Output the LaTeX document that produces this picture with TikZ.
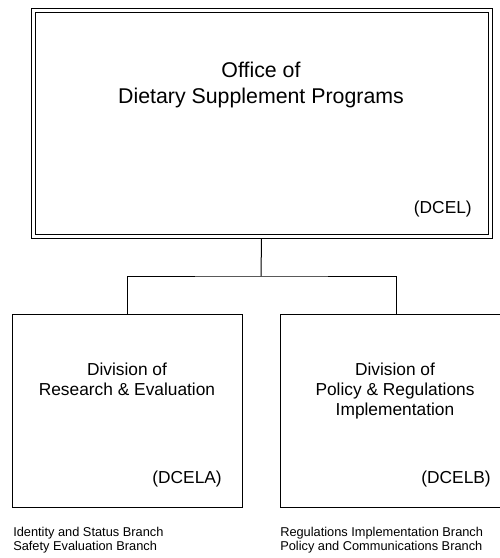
\documentclass[tikz,border=0pt]{standalone}
\usepackage{fontspec}
\setmainfont{Liberation Sans}
\begin{document}
\begin{tikzpicture}[x=0.75pt,y=-0.75pt,
    unit/.style={draw=black,line width=0.75pt,inner sep=0pt,outer sep=0pt},
    heading/.style={align=center,anchor=base,inner sep=0pt,font=\fontsize{13}{15}\selectfont},
    code/.style={anchor=base east,inner sep=0pt,font=\fontsize{13}{15}\selectfont},
    branches/.style={align=left,anchor=base west,inner sep=0pt,font=\fontsize{9.6}{10.5}\selectfont}]
    \clip (0,0) rectangle (500,558);

    % boxes
    \node[unit,double,double distance=2.25pt,minimum width=342.75pt,minimum height=169.5pt,outer sep=1.9pt] (office) at (261.5,123) {};
    \node[unit,minimum width=172.5pt,minimum height=144.75pt] (dre) at (127,410.5) {};
    \node[unit,minimum width=174pt,minimum height=144.75pt] (dpr) at (396,410.5) {};

    % texts (base = last line)
    \node[heading,font=\fontsize{16}{19.5}\selectfont] (officename) at (261,103) {Office of\\Dietary Supplement Programs};
    \node[code] (officecode) at (472,213) {(DCEL)};
    \node[heading] (drename) at (127,395) {Division of\\Research \& Evaluation};
    \node[heading] (dprname) at (395,415) {Division of\\Policy \& Regulations\\Implementation};
    \node[code] (drecode) at (222,483) {(DCELA)};
    \node[code] (dprcode) at (491,483) {(DCELB)};
    \node[branches] (drebranches) at (13,550.5) {Identity and Status Branch\\Safety Evaluation Branch};
    \node[branches] (dprbranches) at (280,550.5) {Regulations Implementation Branch\\Policy and Communications Branch};

    % connectors
    \coordinate (fork) at (261,276);
    \draw[line width=0.75pt] (office.south) -- (fork);
    \draw[line width=0.75pt] (dre.north) |- (fork) -| (dpr.north);
\end{tikzpicture}
\end{document}
